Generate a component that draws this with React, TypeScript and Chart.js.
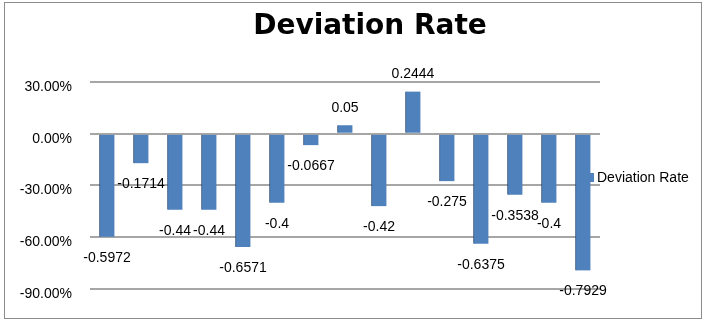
import React, { useEffect, useRef } from "react";
import { Chart, registerables } from "chart.js";

Chart.register(...registerables);

const categories = ["1", "2", "3", "4", "5", "6", "7", "8", "9", "10", "11", "12", "13", "14", "15"];
const deviationRate = [-0.5972, -0.1714, -0.44, -0.44, -0.6571, -0.4, -0.0667, 0.05, -0.42, 0.2444, -0.275, -0.6375, -0.3538, -0.4, -0.7929];
const dataLabels = ["-0.5972", "-0.1714", "-0.44", "-0.44", "-0.6571", "-0.4", "-0.0667", "0.05", "-0.42", "0.2444", "-0.275", "-0.6375", "-0.3538", "-0.4", "-0.7929"];
const seriesName = "Deviation Rate";
const chartTitle = "Deviation Rate";

const BAR_COLOR = "rgb(79,129,189)";
const FONT = "'Liberation Sans', Arial, sans-serif";

const decorPlugin = {
  id: "decor",
  beforeDraw(chart: any) {
    const ctx = chart.ctx;
    ctx.save();
    ctx.fillStyle = "#ffffff";
    ctx.fillRect(0, 0, chart.width, chart.height);
    ctx.strokeStyle = "#8c8c8c";
    ctx.lineWidth = 1;
    ctx.strokeRect(4.5, 2.5, 697, 316);
    ctx.restore();
  },
  afterDatasetsDraw(chart: any) {
    const ctx = chart.ctx;
    ctx.save();
    // title
    ctx.fillStyle = "#000";
    ctx.font = "bold 28px 'DejaVu Sans', sans-serif";
    ctx.textAlign = "center";
    ctx.textBaseline = "middle";
    ctx.fillText(chartTitle, 370, 27);
    // data labels
    const meta = chart.getDatasetMeta(0);
    ctx.font = `14px ${FONT}`;
    ctx.textAlign = "center";
    ctx.textBaseline = "middle";
    meta.data.forEach((el: any, i: number) => {
      const v = deviationRate[i];
      const y = v < 0 ? el.y + 21 : el.y - 17;
      ctx.fillText(dataLabels[i], el.x, y);
    });
    // legend
    ctx.fillStyle = BAR_COLOR;
    ctx.fillRect(586, 173, 8, 9);
    ctx.fillStyle = "#000";
    ctx.textAlign = "left";
    ctx.fillText(seriesName, 597, 178);
    ctx.restore();
  },
};

export default function App() {
  const ref = useRef<HTMLCanvasElement | null>(null);
  useEffect(() => {
    if (!ref.current) return;
    const chart = new Chart(ref.current, {
      type: "bar",
      data: {
        labels: categories,
        datasets: [
          {
            label: seriesName,
            data: deviationRate,
            backgroundColor: BAR_COLOR,
            borderColor: "rgb(40,70,110)",
            borderWidth: { left: 1, right: 0, top: 0, bottom: 0 },
            barThickness: 15,
          },
        ],
      },
      options: {
        responsive: false,
        animation: false,
        layout: { padding: { left: 0, right: 110, top: 82, bottom: 36 } },
        plugins: {
          legend: { display: false },
          title: { display: false },
          tooltip: { enabled: false },
        },
        scales: {
          x: { display: false },
          y: {
            min: -0.9,
            max: 0.3,
            afterFit(scale: any) {
              scale.width = 90;
            },
            ticks: {
              stepSize: 0.3,
              padding: 18,
              labelOffset: 5,
              color: "#000",
              font: { family: FONT, size: 14 },
              callback: (v: any) => (Number(v) * 100).toFixed(2) + "%",
            },
            grid: { color: "#a6a6a6", lineWidth: 2, drawTicks: false },
            border: { display: false },
          },
        },
      },
      plugins: [decorPlugin],
    });
    return () => chart.destroy();
  }, []);
  return (
    <div style={{ position: "absolute", left: 0, top: 0, width: 710, height: 325 }}>
      <canvas ref={ref} width={710} height={325} />
    </div>
  );
}
